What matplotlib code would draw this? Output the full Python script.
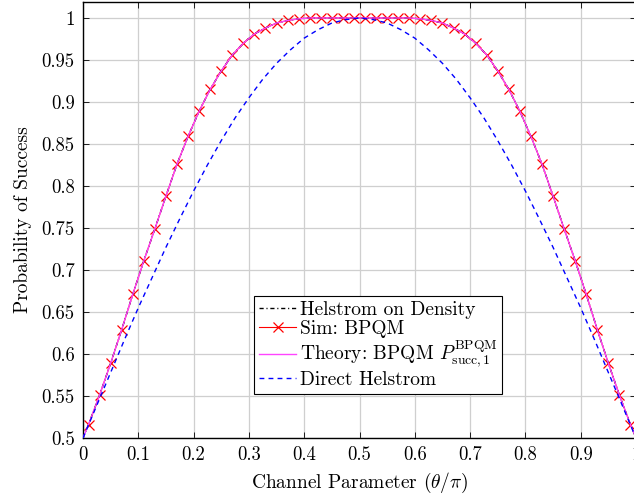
import numpy as np
import matplotlib
matplotlib.use("Agg")
import matplotlib.pyplot as plt

plt.rcParams['font.family'] = 'serif'
plt.rcParams['font.serif'] = ['cmr10', 'DejaVu Serif']
plt.rcParams['mathtext.fontset'] = 'cm'
plt.rcParams['axes.unicode_minus'] = False
plt.rcParams['axes.formatter.use_mathtext'] = True

# Sim: BPQM markers (theta/pi)
sim_x = [0.01, 0.03, 0.05, 0.07, 0.09, 0.11, 0.13, 0.15, 0.17, 0.19,
         0.21, 0.23, 0.25, 0.27, 0.29, 0.31, 0.33, 0.35, 0.37, 0.39,
         0.41, 0.43, 0.45, 0.47, 0.49, 0.51, 0.53, 0.55, 0.57, 0.59,
         0.61, 0.63, 0.65, 0.67, 0.69, 0.71, 0.73, 0.75, 0.77, 0.79,
         0.81, 0.83, 0.85, 0.87, 0.89, 0.91, 0.93, 0.95, 0.97, 0.99]
sim_y = [0.516, 0.551, 0.589, 0.629, 0.671, 0.711, 0.749, 0.788, 0.826, 0.859,
         0.889, 0.915, 0.937, 0.956, 0.970, 0.981, 0.988, 0.994, 0.997, 0.999,
         1.000, 1.000, 1.000, 1.000, 1.000, 1.000, 1.000, 1.000, 1.000, 1.000,
         0.999, 0.997, 0.994, 0.988, 0.981, 0.970, 0.956, 0.937, 0.915, 0.889,
         0.859, 0.826, 0.788, 0.749, 0.711, 0.671, 0.629, 0.589, 0.551, 0.516]

# Theory / Helstrom on density curves
theo_x = [0.0] + sim_x + [1.0]
theo_y = [0.5] + sim_y + [0.5]
dens_y = [0.5] + sim_y + [0.5]

# Direct Helstrom
dir_x = [0.0, 0.025, 0.05, 0.075, 0.1, 0.125, 0.15, 0.175, 0.2, 0.225,
         0.25, 0.275, 0.3, 0.325, 0.35, 0.375, 0.4, 0.425, 0.45, 0.475,
         0.5, 0.525, 0.55, 0.575, 0.6, 0.625, 0.65, 0.675, 0.7, 0.725,
         0.75, 0.775, 0.8, 0.825, 0.85, 0.875, 0.9, 0.925, 0.95, 0.975, 1.0]
dir_y = [0.500, 0.539, 0.578, 0.617, 0.655, 0.691, 0.727, 0.761, 0.794, 0.825,
         0.854, 0.881, 0.905, 0.927, 0.946, 0.962, 0.976, 0.986, 0.994, 0.998,
         1.000, 0.998, 0.994, 0.986, 0.976, 0.962, 0.946, 0.927, 0.905, 0.881,
         0.854, 0.825, 0.794, 0.761, 0.727, 0.691, 0.655, 0.617, 0.578, 0.539, 0.500]

xticks = [0, 0.1, 0.2, 0.3, 0.4, 0.5, 0.6, 0.7, 0.8, 0.9, 1]
xticklabels = ['0', '0.1', '0.2', '0.3', '0.4', '0.5', '0.6', '0.7', '0.8', '0.9', '1']
yticks = [0.5, 0.55, 0.6, 0.65, 0.7, 0.75, 0.8, 0.85, 0.9, 0.95, 1]
yticklabels = ['0.5', '0.55', '0.6', '0.65', '0.7', '0.75', '0.8', '0.85', '0.9', '0.95', '1']

fig = plt.figure(figsize=(6.34, 4.98), dpi=100)
ax = fig.add_axes([83/634, 1 - 438/498, 553/634, 436/498])

ax.plot(theo_x, dens_y, color='black', lw=1.0, ls=(0, (3, 2, 0.8, 2)),
        label='Helstrom on Density', zorder=3)
ax.plot(sim_x, sim_y, color='red', lw=0.8, marker='x', ms=7.5, mew=0.9,
        label='Sim: BPQM', zorder=2)
ax.plot(theo_x, theo_y, color='#ff44ff', lw=1.0,
        label=r'Theory: BPQM $P_{\mathrm{succ},1}^{\mathrm{BPQM}}$', zorder=4)
ax.plot(dir_x, dir_y, color='blue', lw=1.0, ls=(0, (3.5, 3)),
        label='Direct Helstrom', zorder=5)

ax.set_xlim(0, 1)
ax.set_ylim(0.5, 1.019)
ax.set_xticks(xticks)
ax.set_xticklabels(xticklabels)
ax.set_yticks(yticks)
ax.set_yticklabels(yticklabels)
ax.tick_params(direction='in', top=True, right=True, length=4, width=0.6,
               labelsize=13.5, pad=6)
ax.grid(True, color='#cfcfcf', lw=0.9)
ax.set_axisbelow(True)
for s in ax.spines.values():
    s.set_linewidth(1.0)

ax.set_xlabel(r'Channel Parameter $(\theta/\pi)$', fontsize=14, labelpad=5)
ax.set_ylabel('Probability of Success', fontsize=14, labelpad=7)

leg = ax.legend(loc='center', bbox_to_anchor=(0.534, 0.213), fontsize=14,
                fancybox=False, framealpha=1, edgecolor='black',
                handlelength=1.9, handletextpad=0.2, borderpad=0.25,
                labelspacing=0.05, borderaxespad=0)
leg.get_frame().set_linewidth(0.8)

fig.savefig('out.png', dpi=100)
